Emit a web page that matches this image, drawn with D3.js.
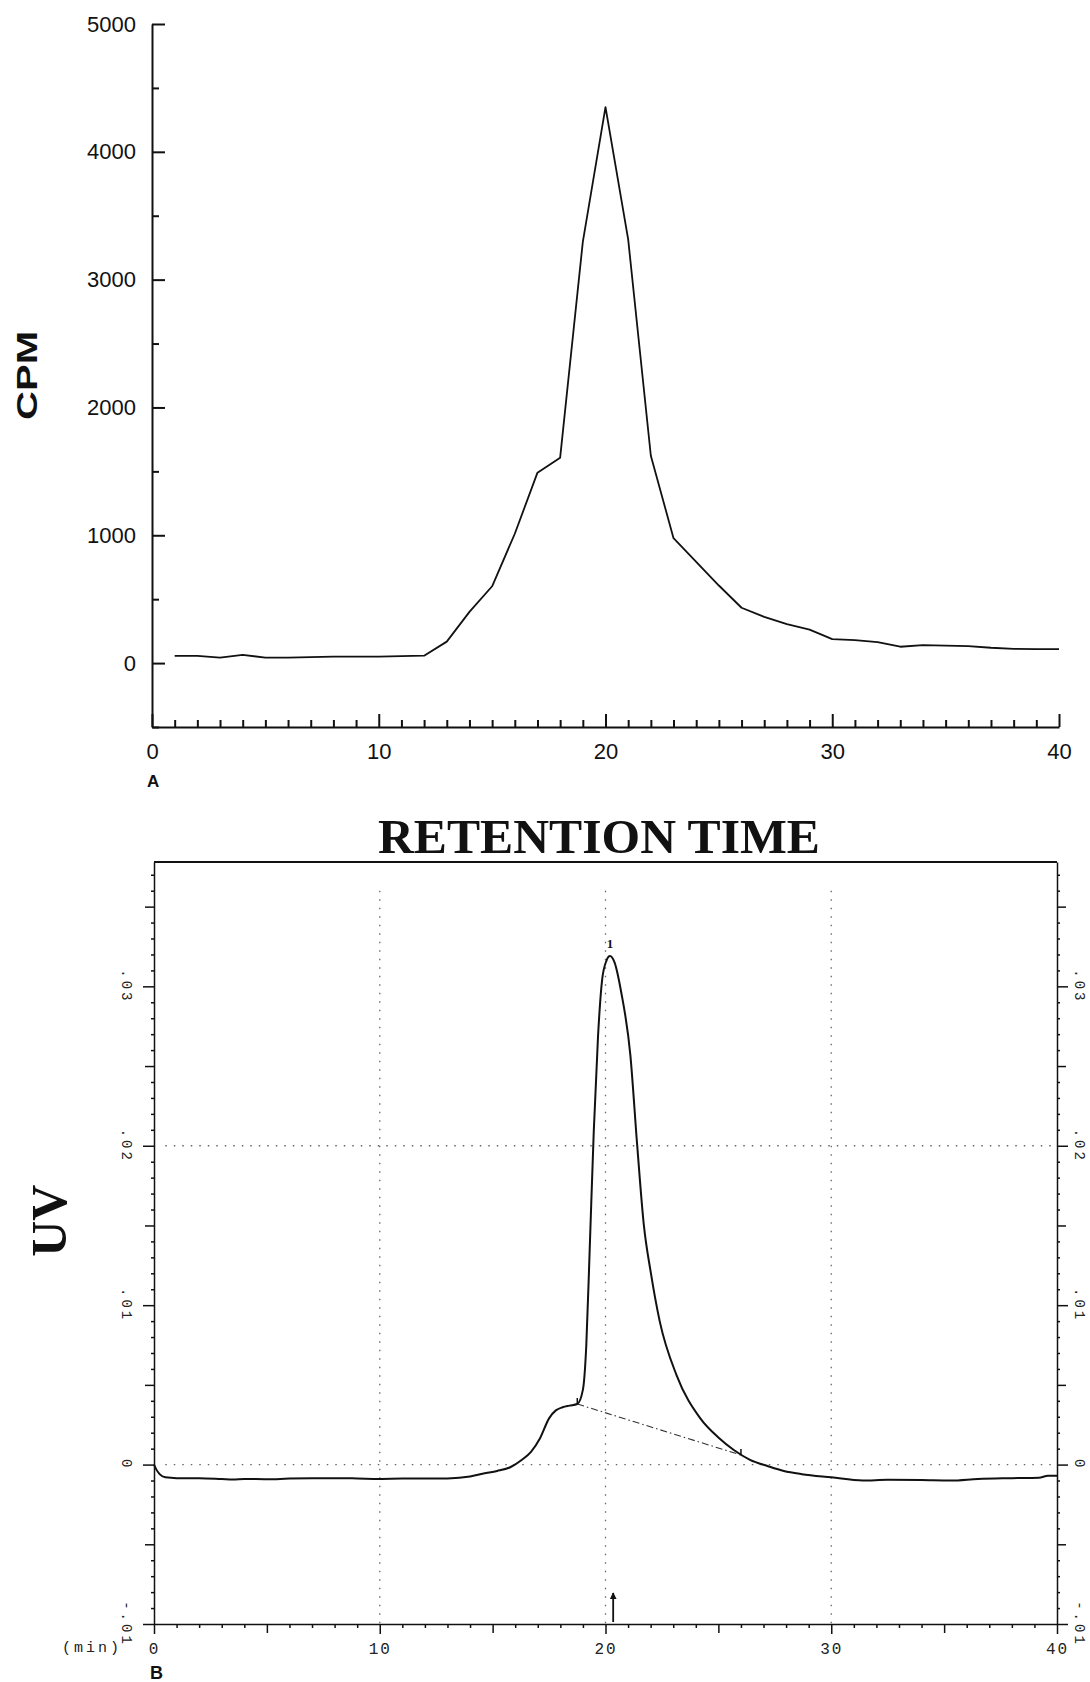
<!DOCTYPE html>
<html>
<head>
<meta charset="utf-8">
<script src="https://cdn.jsdelivr.net/npm/d3@7"></script>
<style>
  body { margin: 0; background: white; }
</style>
</head>
<body>
<div id="chart"></div>
<script>
// panel A - radioactivity per fraction
const fractions = d3.range(1, 41);
const cpm = [57, 56, 42, 65, 42, 42, 47, 50, 50, 50,
             55, 58, 168, 401, 601, 1012, 1490, 1607, 3296, 4350,
             3315, 1622, 977, 792, 607, 433, 362, 305, 262, 187,
             180, 164, 128, 141, 136, 133, 120, 112, 109, 109];
const cpmMajor = [0, 1000, 2000, 3000, 4000, 5000];
const cpmMinor = [-500, 500, 1500, 2500, 3500, 4500];
const fracMajor = [0, 10, 20, 30, 40];

// panel B - UV trace (min, AU)
const uvTime = [0, 0.1, 0.25, 0.5, 1, 2, 3, 3.5, 4, 5, 6, 7, 8, 9, 10, 11, 12, 13, 14,
                14.6, 15.2, 15.8, 16.3, 16.7, 17.1, 17.5, 17.8, 18.1, 18.4, 18.75,
                19.0, 19.15, 19.3, 19.48, 19.67, 19.85, 20.04, 20.2, 20.4, 20.7,
                21.1, 21.4, 21.7, 22.0, 22.4, 23.15, 24.2, 25.0, 25.7, 26.4, 27.2,
                27.9, 28.7, 30, 31.4, 32.5, 34, 35.3, 36.5, 38, 39.2, 39.6, 40];
const uvAbs = [0, -0.0003, -0.0006, -0.0008, -0.00085, -0.00085, -0.0009, -0.00093, -0.0009,
               -0.00092, -0.00088, -0.00086, -0.00085, -0.00087, -0.0009, -0.00088, -0.00088,
               -0.00087, -0.00075, -0.00056, -0.0004, -0.00015, 0.0003, 0.0008, 0.00165,
               0.0029, 0.0034, 0.0036, 0.0037, 0.0038, 0.0047, 0.0075, 0.0135, 0.0209,
               0.0269, 0.0304, 0.0316, 0.0319, 0.0315, 0.0296, 0.0257, 0.0201, 0.0150,
               0.0121, 0.0090, 0.0056, 0.0029, 0.0017, 0.0009, 0.0003, -0.0001, -0.0004,
               -0.0006, -0.0008, -0.001, -0.00095, -0.00097, -0.001, -0.0009, -0.00085,
               -0.00082, -0.0007, -0.0007];
const baseTime = [18.75, 26.0];
const baseAbs = [0.0038, 0.0006];
const peakTime = 20.2, peakAbs = 0.0319, peakLabel = "1";
const injectTime = 20.34;
const uvMajor = [-0.01, 0, 0.01, 0.02, 0.03];
const uvLabels = ["-.01", "0", ".01", ".02", ".03"];
const uvMid = [-0.005, 0.005, 0.015, 0.025, 0.035];
const uvMinor = d3.range(-9, 38).map(d => d / 1000).filter(d => Math.round(d * 1000) % 5 !== 0);
const minMajor = [0, 10, 20, 30, 40];
const minMid = [5, 15, 25, 35];
const minMinor = d3.range(0, 41).filter(d => d % 5 !== 0);
const gridTimes = [10, 20, 30];
const gridAbs = [0, 0.02];

const W = 1090, H = 1682;
const svg = d3.select("#chart").append("svg")
    .attr("width", W)
    .attr("height", H)
    .style("background", "white");

const defs = svg.append("defs");
defs.append("marker")
    .attr("id", "arrow")
    .attr("viewBox", "0 0 10 10")
    .attr("refX", 9).attr("refY", 5)
    .attr("markerWidth", 4).attr("markerHeight", 4)
    .attr("orient", "auto")
    .append("path").attr("d", "M0,0 L10,5 L0,10 Z").attr("fill", "#111");

const sans = "'Liberation Sans', Arial, Helvetica, sans-serif";
const serif = "'Liberation Serif', 'Times New Roman', serif";
const mono = "'Liberation Mono', 'Courier New', monospace";

// d3.axis writes its own font attrs, so set ours afterwards
function styleAxis(g, w, font, size) {
    g.selectAll("path, line").attr("stroke", "#111").attr("stroke-width", w);
    g.selectAll("text").attr("fill", "#111");
    if (font) g.attr("font-family", font).attr("font-size", size);
}

// ---------- panel A ----------
const xA = d3.scaleLinear().domain([0, 40]).range([152, 1059]);
const yA = d3.scaleLinear().domain([-500, 5000]).range([727, 24]);

svg.append("g")
    .attr("transform", `translate(${xA(0)},0)`)
    .call(d3.axisLeft(yA).tickValues(cpmMajor).tickSize(-13).tickSizeOuter(0).tickPadding(16).tickFormat(d3.format("d")))
    .call(g => styleAxis(g, 2, sans, 22));
svg.append("g")
    .attr("transform", `translate(${xA(0)},0)`)
    .call(d3.axisLeft(yA).tickValues(cpmMinor).tickSize(-7).tickSizeOuter(0).tickFormat(""))
    .call(g => g.select(".domain").remove())
    .call(g => styleAxis(g, 2));

svg.append("g")
    .attr("transform", `translate(0,${yA(-500)})`)
    .call(d3.axisBottom(xA).tickValues(fracMajor).tickSize(-13).tickSizeOuter(0).tickPadding(16))
    .call(g => styleAxis(g, 2, sans, 22));
svg.append("g")
    .attr("transform", `translate(0,${yA(-500)})`)
    .call(d3.axisBottom(xA).tickValues(fractions.filter(d => d % 10 !== 0)).tickSize(-7).tickSizeOuter(0).tickFormat(""))
    .call(g => g.select(".domain").remove())
    .call(g => styleAxis(g, 2));

svg.append("path")
    .datum(fractions.map((f, i) => [f, cpm[i]]))
    .attr("fill", "none")
    .attr("stroke", "#111")
    .attr("stroke-width", 1.8)
    .attr("stroke-linejoin", "round")
    .attr("d", d3.line().x(d => xA(d[0])).y(d => yA(d[1])));

svg.append("text")
    .attr("transform", `translate(37,${yA(2250)}) rotate(-90)`)
    .attr("text-anchor", "middle")
    .attr("font-family", sans).attr("font-weight", "bold")
    .attr("font-size", 30)
    .attr("textLength", 89).attr("lengthAdjust", "spacingAndGlyphs")
    .attr("fill", "#111")
    .text("CPM");

svg.append("text")
    .attr("x", 147).attr("y", 787)
    .attr("font-family", sans).attr("font-weight", "bold").attr("font-size", 17)
    .attr("fill", "#111")
    .text("A");

// ---------- panel B ----------
const xB = d3.scaleLinear().domain([0, 40]).range([154, 1057]);
const yB = d3.scaleLinear().domain([-0.01, 0.0378]).range([1624, 862]);

svg.append("text")
    .attr("x", 599).attr("y", 853)
    .attr("text-anchor", "middle")
    .attr("font-family", serif).attr("font-weight", "bold").attr("font-size", 49)
    .attr("textLength", 442).attr("lengthAdjust", "spacingAndGlyphs")
    .attr("fill", "#111")
    .text("RETENTION TIME");

svg.append("text")
    .attr("transform", `translate(66,${yB(0.0153)}) rotate(-90)`)
    .attr("text-anchor", "middle")
    .attr("font-family", serif).attr("font-weight", "bold").attr("font-size", 50)
    .attr("fill", "#111")
    .text("UV");

// grid
const grid = svg.append("g")
    .attr("stroke", "#666").attr("stroke-width", 1.3)
    .attr("stroke-dasharray", "1.5,7");
grid.selectAll(".gv").data(gridTimes).join("line")
    .attr("x1", d => xB(d)).attr("x2", d => xB(d))
    .attr("y1", yB(0.036)).attr("y2", yB(-0.01));
grid.selectAll(".gh").data(gridAbs).join("line")
    .attr("x1", xB(0.5)).attr("x2", xB(40))
    .attr("y1", d => yB(d)).attr("y2", d => yB(d));

// frame and axes
svg.append("line")
    .attr("x1", xB(0)).attr("x2", xB(40))
    .attr("y1", yB(0.0378)).attr("y2", yB(0.0378))
    .attr("stroke", "#111").attr("stroke-width", 2);

function sideAxis(axisFn, x) {
    const g = svg.append("g").attr("transform", `translate(${x},0)`);
    g.append("g").call(axisFn(yB).tickValues(uvMinor).tickSize(3).tickSizeOuter(0).tickFormat(""))
        .call(a => styleAxis(a, 1.5));
    g.append("g").call(axisFn(yB).tickValues(uvMid).tickSize(9).tickSizeOuter(0).tickFormat(""))
        .call(a => a.select(".domain").remove())
        .call(a => styleAxis(a, 1.5));
    g.append("g").call(axisFn(yB).tickValues(uvMajor).tickSize(11).tickSizeOuter(0).tickFormat(""))
        .call(a => a.select(".domain").remove())
        .call(a => styleAxis(a, 1.5));
    return g;
}
sideAxis(d3.axisLeft, xB(0));
sideAxis(d3.axisRight, xB(40));

[xB(0) - 28, xB(40) + 22].forEach(lx => {
    svg.append("g").selectAll("text").data(uvMajor).join("text")
        .attr("transform", d => `translate(${lx},${yB(d)}) rotate(90)`)
        .attr("text-anchor", "middle")
        .attr("dominant-baseline", "central")
        .attr("font-family", mono).attr("font-size", 14)
        .attr("letter-spacing", 3)
        .attr("fill", "#222")
        .text((d, i) => uvLabels[i]);
});

const bottom = svg.append("g").attr("transform", `translate(0,${yB(-0.01)})`);
bottom.append("g").call(d3.axisBottom(xB).tickValues(minMinor).tickSize(4).tickSizeOuter(0).tickFormat(""))
    .call(a => styleAxis(a, 1.5));
bottom.append("g").call(d3.axisBottom(xB).tickValues(minMid).tickSize(9).tickSizeOuter(0).tickFormat(""))
    .call(a => a.select(".domain").remove())
    .call(a => styleAxis(a, 1.5));
bottom.append("g").call(d3.axisBottom(xB).tickValues(minMajor).tickSize(10).tickSizeOuter(0).tickPadding(9))
    .call(a => a.select(".domain").remove())
    .call(a => styleAxis(a, 1.5, mono, 16))
    .call(a => a.selectAll("text").attr("letter-spacing", 2).attr("fill", "#222"));

svg.append("text")
    .attr("x", 122).attr("y", yB(-0.01) + 28)
    .attr("text-anchor", "end")
    .attr("font-family", mono).attr("font-size", 15)
    .attr("letter-spacing", 3)
    .attr("fill", "#222")
    .text("(min)");

svg.append("text")
    .attr("x", 150).attr("y", 1679)
    .attr("font-family", sans).attr("font-weight", "bold").attr("font-size", 18)
    .attr("fill", "#111")
    .text("B");

// integration baseline
svg.append("path")
    .datum(baseTime.map((t, i) => [t, baseAbs[i]]))
    .attr("fill", "none")
    .attr("stroke", "#333").attr("stroke-width", 1.1)
    .attr("stroke-dasharray", "7,3,1.5,3")
    .attr("d", d3.line().x(d => xB(d[0])).y(d => yB(d[1])));
svg.append("g").selectAll("line").data(baseTime.map((t, i) => [t, baseAbs[i]])).join("line")
    .attr("x1", d => xB(d[0])).attr("x2", d => xB(d[0]))
    .attr("y1", d => yB(d[1]) - 6).attr("y2", d => yB(d[1]))
    .attr("stroke", "#111").attr("stroke-width", 1.5);

// UV trace
svg.append("path")
    .datum(uvTime.map((t, i) => [t, uvAbs[i]]))
    .attr("fill", "none")
    .attr("stroke", "#111")
    .attr("stroke-width", 2)
    .attr("stroke-linejoin", "round")
    .attr("d", d3.line().curve(d3.curveMonotoneX).x(d => xB(d[0])).y(d => yB(d[1])));

// peak number
svg.append("text")
    .attr("x", xB(peakTime)).attr("y", yB(peakAbs) - 8)
    .attr("text-anchor", "middle")
    .attr("font-family", serif).attr("font-weight", "bold").attr("font-size", 13)
    .attr("fill", "#111")
    .text(peakLabel);

// injection arrow
svg.append("line")
    .attr("x1", xB(injectTime)).attr("x2", xB(injectTime))
    .attr("y1", yB(-0.01) - 2).attr("y2", yB(-0.01) - 31)
    .attr("stroke", "#111").attr("stroke-width", 1.8)
    .attr("marker-end", "url(#arrow)");
</script>
</body>
</html>
